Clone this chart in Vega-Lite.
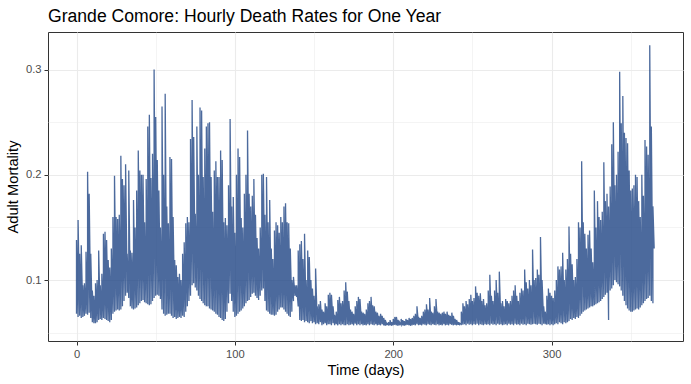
{
"$schema":"https://vega.github.io/schema/vega-lite/v6.json",
"autosize":"none",
"width":635,"height":309,
"padding":{"left":48,"top":32,"right":8,"bottom":43},
"background":"white",
"config":{"font":"Liberation Sans","view":{"stroke":"#333333","strokeWidth":1}},
"title":{"text":"Grande Comore: Hourly Death Rates for One Year","anchor":"start","frame":"group","font":"Liberation Sans","fontSize":17.6,"fontWeight":"normal","color":"#000000","offset":6},
"data":{"values":[
{"d":0,"lo":0.068,"hi":0.138},{"d":1,"lo":0.065,"hi":0.157},{"d":2,"lo":0.066,"hi":0.125},{"d":3,"lo":0.064,"hi":0.133},{"d":4,"lo":0.065,"hi":0.095},{"d":5,"lo":0.066,"hi":0.097},{"d":6,"lo":0.068,"hi":0.127},{"d":7,"lo":0.067,"hi":0.203},{"d":8,"lo":0.069,"hi":0.182},{"d":9,"lo":0.064,"hi":0.125},
{"d":10,"lo":0.06,"hi":0.09},{"d":11,"lo":0.059,"hi":0.085},{"d":12,"lo":0.059,"hi":0.097},{"d":13,"lo":0.06,"hi":0.1},{"d":14,"lo":0.062,"hi":0.128},{"d":15,"lo":0.063,"hi":0.095},{"d":16,"lo":0.062,"hi":0.106},{"d":17,"lo":0.064,"hi":0.144},{"d":18,"lo":0.063,"hi":0.146},{"d":19,"lo":0.062,"hi":0.138},
{"d":20,"lo":0.061,"hi":0.119},{"d":21,"lo":0.06,"hi":0.112},{"d":22,"lo":0.062,"hi":0.13},{"d":23,"lo":0.068,"hi":0.16},{"d":24,"lo":0.07,"hi":0.199},{"d":25,"lo":0.071,"hi":0.16},{"d":26,"lo":0.072,"hi":0.158},{"d":27,"lo":0.071,"hi":0.162},{"d":28,"lo":0.072,"hi":0.218},{"d":29,"lo":0.075,"hi":0.196},
{"d":30,"lo":0.08,"hi":0.19},{"d":31,"lo":0.085,"hi":0.21},{"d":32,"lo":0.088,"hi":0.125},{"d":33,"lo":0.083,"hi":0.204},{"d":34,"lo":0.075,"hi":0.128},{"d":35,"lo":0.073,"hi":0.126},{"d":36,"lo":0.072,"hi":0.176},{"d":37,"lo":0.073,"hi":0.15},{"d":38,"lo":0.074,"hi":0.185},{"d":39,"lo":0.076,"hi":0.223},
{"d":40,"lo":0.078,"hi":0.204},{"d":41,"lo":0.08,"hi":0.2},{"d":42,"lo":0.081,"hi":0.2},{"d":43,"lo":0.079,"hi":0.155},{"d":44,"lo":0.078,"hi":0.196},{"d":45,"lo":0.077,"hi":0.246},{"d":46,"lo":0.076,"hi":0.257},{"d":47,"lo":0.077,"hi":0.197},{"d":48,"lo":0.08,"hi":0.22},{"d":49,"lo":0.083,"hi":0.3},
{"d":50,"lo":0.085,"hi":0.255},{"d":51,"lo":0.086,"hi":0.214},{"d":52,"lo":0.085,"hi":0.185},{"d":53,"lo":0.082,"hi":0.15},{"d":54,"lo":0.072,"hi":0.265},{"d":55,"lo":0.068,"hi":0.2},{"d":56,"lo":0.066,"hi":0.277},{"d":57,"lo":0.067,"hi":0.17},{"d":58,"lo":0.068,"hi":0.154},{"d":59,"lo":0.068,"hi":0.217},
{"d":60,"lo":0.066,"hi":0.215},{"d":61,"lo":0.064,"hi":0.16},{"d":62,"lo":0.065,"hi":0.119},{"d":63,"lo":0.063,"hi":0.114},{"d":64,"lo":0.064,"hi":0.103},{"d":65,"lo":0.065,"hi":0.106},{"d":66,"lo":0.064,"hi":0.1},{"d":67,"lo":0.066,"hi":0.125},{"d":68,"lo":0.065,"hi":0.136},{"d":69,"lo":0.07,"hi":0.154},
{"d":70,"lo":0.075,"hi":0.16},{"d":71,"lo":0.08,"hi":0.155},{"d":72,"lo":0.085,"hi":0.234},{"d":73,"lo":0.095,"hi":0.271},{"d":74,"lo":0.097,"hi":0.236},{"d":75,"lo":0.093,"hi":0.163},{"d":76,"lo":0.09,"hi":0.246},{"d":77,"lo":0.085,"hi":0.2},{"d":78,"lo":0.082,"hi":0.264},{"d":79,"lo":0.08,"hi":0.261},
{"d":80,"lo":0.078,"hi":0.198},{"d":81,"lo":0.076,"hi":0.225},{"d":82,"lo":0.075,"hi":0.246},{"d":83,"lo":0.075,"hi":0.249},{"d":84,"lo":0.073,"hi":0.25},{"d":85,"lo":0.072,"hi":0.198},{"d":86,"lo":0.071,"hi":0.165},{"d":87,"lo":0.07,"hi":0.204},{"d":88,"lo":0.068,"hi":0.213},{"d":89,"lo":0.067,"hi":0.198},
{"d":90,"lo":0.065,"hi":0.198},{"d":91,"lo":0.064,"hi":0.223},{"d":92,"lo":0.062,"hi":0.214},{"d":93,"lo":0.061,"hi":0.155},{"d":94,"lo":0.063,"hi":0.159},{"d":95,"lo":0.07,"hi":0.152},{"d":96,"lo":0.078,"hi":0.19},{"d":97,"lo":0.087,"hi":0.253},{"d":98,"lo":0.08,"hi":0.17},{"d":99,"lo":0.07,"hi":0.179},
{"d":100,"lo":0.065,"hi":0.145},{"d":101,"lo":0.066,"hi":0.2},{"d":102,"lo":0.068,"hi":0.225},{"d":103,"lo":0.07,"hi":0.217},{"d":104,"lo":0.071,"hi":0.159},{"d":105,"lo":0.073,"hi":0.15},{"d":106,"lo":0.075,"hi":0.182},{"d":107,"lo":0.078,"hi":0.2},{"d":108,"lo":0.08,"hi":0.242},{"d":109,"lo":0.081,"hi":0.182},
{"d":110,"lo":0.084,"hi":0.17},{"d":111,"lo":0.087,"hi":0.18},{"d":112,"lo":0.088,"hi":0.196},{"d":113,"lo":0.085,"hi":0.162},{"d":114,"lo":0.083,"hi":0.14},{"d":115,"lo":0.081,"hi":0.13},{"d":116,"lo":0.085,"hi":0.15},{"d":117,"lo":0.09,"hi":0.2},{"d":118,"lo":0.092,"hi":0.201},{"d":119,"lo":0.08,"hi":0.162},
{"d":120,"lo":0.071,"hi":0.198},{"d":121,"lo":0.07,"hi":0.155},{"d":122,"lo":0.068,"hi":0.176},{"d":123,"lo":0.067,"hi":0.13},{"d":124,"lo":0.067,"hi":0.12},{"d":125,"lo":0.066,"hi":0.147},{"d":126,"lo":0.067,"hi":0.155},{"d":127,"lo":0.07,"hi":0.152},{"d":128,"lo":0.072,"hi":0.145},{"d":129,"lo":0.074,"hi":0.16},
{"d":130,"lo":0.074,"hi":0.155},{"d":131,"lo":0.072,"hi":0.17},{"d":132,"lo":0.07,"hi":0.173},{"d":133,"lo":0.068,"hi":0.155},{"d":134,"lo":0.066,"hi":0.154},{"d":135,"lo":0.065,"hi":0.13},{"d":136,"lo":0.07,"hi":0.1},{"d":137,"lo":0.08,"hi":0.103},{"d":138,"lo":0.085,"hi":0.095},{"d":139,"lo":0.084,"hi":0.095},
{"d":140,"lo":0.075,"hi":0.128},{"d":141,"lo":0.062,"hi":0.134},{"d":142,"lo":0.061,"hi":0.137},{"d":143,"lo":0.062,"hi":0.12},{"d":144,"lo":0.06,"hi":0.144},{"d":145,"lo":0.061,"hi":0.1},{"d":146,"lo":0.06,"hi":0.128},{"d":147,"lo":0.059,"hi":0.122},{"d":148,"lo":0.061,"hi":0.1},{"d":149,"lo":0.059,"hi":0.092},
{"d":150,"lo":0.06,"hi":0.085},{"d":151,"lo":0.058,"hi":0.111},{"d":152,"lo":0.059,"hi":0.075},{"d":153,"lo":0.058,"hi":0.077},{"d":154,"lo":0.06,"hi":0.08},{"d":155,"lo":0.057,"hi":0.072},{"d":156,"lo":0.058,"hi":0.07},{"d":157,"lo":0.059,"hi":0.078},{"d":158,"lo":0.057,"hi":0.075},{"d":159,"lo":0.058,"hi":0.086},
{"d":160,"lo":0.058,"hi":0.088},{"d":161,"lo":0.057,"hi":0.086},{"d":162,"lo":0.059,"hi":0.075},{"d":163,"lo":0.057,"hi":0.067},{"d":164,"lo":0.058,"hi":0.07},{"d":165,"lo":0.057,"hi":0.081},{"d":166,"lo":0.058,"hi":0.084},{"d":167,"lo":0.057,"hi":0.078},{"d":168,"lo":0.058,"hi":0.08},{"d":169,"lo":0.057,"hi":0.09},
{"d":170,"lo":0.057,"hi":0.098},{"d":171,"lo":0.058,"hi":0.089},{"d":172,"lo":0.057,"hi":0.08},{"d":173,"lo":0.0575,"hi":0.072},{"d":174,"lo":0.058,"hi":0.07},{"d":175,"lo":0.057,"hi":0.068},{"d":176,"lo":0.0585,"hi":0.075},{"d":177,"lo":0.057,"hi":0.08},{"d":178,"lo":0.058,"hi":0.084},{"d":179,"lo":0.057,"hi":0.082},
{"d":180,"lo":0.058,"hi":0.07},{"d":181,"lo":0.057,"hi":0.069},{"d":182,"lo":0.0575,"hi":0.068},{"d":183,"lo":0.057,"hi":0.072},{"d":184,"lo":0.058,"hi":0.078},{"d":185,"lo":0.057,"hi":0.08},{"d":186,"lo":0.058,"hi":0.084},{"d":187,"lo":0.0575,"hi":0.076},{"d":188,"lo":0.057,"hi":0.075},{"d":189,"lo":0.058,"hi":0.07},
{"d":190,"lo":0.057,"hi":0.069},{"d":191,"lo":0.0575,"hi":0.066},{"d":192,"lo":0.057,"hi":0.068},{"d":193,"lo":0.058,"hi":0.066},{"d":194,"lo":0.057,"hi":0.064},{"d":195,"lo":0.0565,"hi":0.062},{"d":196,"lo":0.057,"hi":0.059},{"d":197,"lo":0.0575,"hi":0.06},{"d":198,"lo":0.057,"hi":0.062},{"d":199,"lo":0.0565,"hi":0.06},
{"d":200,"lo":0.057,"hi":0.063},{"d":201,"lo":0.0575,"hi":0.065},{"d":202,"lo":0.057,"hi":0.065},{"d":203,"lo":0.0565,"hi":0.062},{"d":204,"lo":0.057,"hi":0.06},{"d":205,"lo":0.0575,"hi":0.063},{"d":206,"lo":0.057,"hi":0.062},{"d":207,"lo":0.0565,"hi":0.061},{"d":208,"lo":0.057,"hi":0.063},{"d":209,"lo":0.0575,"hi":0.062},
{"d":210,"lo":0.057,"hi":0.064},{"d":211,"lo":0.0565,"hi":0.063},{"d":212,"lo":0.057,"hi":0.064},{"d":213,"lo":0.0575,"hi":0.066},{"d":214,"lo":0.057,"hi":0.068},{"d":215,"lo":0.058,"hi":0.075},{"d":216,"lo":0.057,"hi":0.065},{"d":217,"lo":0.0575,"hi":0.064},{"d":218,"lo":0.057,"hi":0.066},{"d":219,"lo":0.058,"hi":0.07},
{"d":220,"lo":0.0575,"hi":0.072},{"d":221,"lo":0.057,"hi":0.077},{"d":222,"lo":0.058,"hi":0.072},{"d":223,"lo":0.0575,"hi":0.083},{"d":224,"lo":0.057,"hi":0.07},{"d":225,"lo":0.058,"hi":0.069},{"d":226,"lo":0.0575,"hi":0.075},{"d":227,"lo":0.057,"hi":0.082},{"d":228,"lo":0.058,"hi":0.07},{"d":229,"lo":0.057,"hi":0.069},
{"d":230,"lo":0.0575,"hi":0.068},{"d":231,"lo":0.057,"hi":0.069},{"d":232,"lo":0.058,"hi":0.07},{"d":233,"lo":0.057,"hi":0.068},{"d":234,"lo":0.0575,"hi":0.07},{"d":235,"lo":0.057,"hi":0.067},{"d":236,"lo":0.058,"hi":0.066},{"d":237,"lo":0.0575,"hi":0.069},{"d":238,"lo":0.057,"hi":0.066},{"d":239,"lo":0.0575,"hi":0.063},
{"d":240,"lo":0.057,"hi":0.062},{"d":241,"lo":0.0575,"hi":0.06},{"d":242,"lo":0.057,"hi":0.059},{"d":243,"lo":0.058,"hi":0.07},{"d":244,"lo":0.0575,"hi":0.078},{"d":245,"lo":0.058,"hi":0.075},{"d":246,"lo":0.057,"hi":0.08},{"d":247,"lo":0.0585,"hi":0.077},{"d":248,"lo":0.0575,"hi":0.082},{"d":249,"lo":0.058,"hi":0.086},
{"d":250,"lo":0.057,"hi":0.08},{"d":251,"lo":0.058,"hi":0.083},{"d":252,"lo":0.0575,"hi":0.094},{"d":253,"lo":0.0585,"hi":0.088},{"d":254,"lo":0.057,"hi":0.085},{"d":255,"lo":0.058,"hi":0.0875},{"d":256,"lo":0.0575,"hi":0.08},{"d":257,"lo":0.057,"hi":0.082},{"d":258,"lo":0.058,"hi":0.076},{"d":259,"lo":0.0575,"hi":0.078},
{"d":260,"lo":0.058,"hi":0.09},{"d":261,"lo":0.057,"hi":0.105},{"d":262,"lo":0.0585,"hi":0.085},{"d":263,"lo":0.0575,"hi":0.08},{"d":264,"lo":0.058,"hi":0.09},{"d":265,"lo":0.057,"hi":0.1},{"d":266,"lo":0.0585,"hi":0.088},{"d":267,"lo":0.0575,"hi":0.108},{"d":268,"lo":0.058,"hi":0.078},{"d":269,"lo":0.057,"hi":0.08},
{"d":270,"lo":0.0575,"hi":0.075},{"d":271,"lo":0.058,"hi":0.082},{"d":272,"lo":0.057,"hi":0.08},{"d":273,"lo":0.0585,"hi":0.078},{"d":274,"lo":0.0575,"hi":0.08},{"d":275,"lo":0.058,"hi":0.085},{"d":276,"lo":0.057,"hi":0.09},{"d":277,"lo":0.0585,"hi":0.095},{"d":278,"lo":0.0575,"hi":0.085},{"d":279,"lo":0.058,"hi":0.08},
{"d":280,"lo":0.057,"hi":0.088},{"d":281,"lo":0.0585,"hi":0.092},{"d":282,"lo":0.0575,"hi":0.09},{"d":283,"lo":0.058,"hi":0.11},{"d":284,"lo":0.057,"hi":0.098},{"d":285,"lo":0.0585,"hi":0.092},{"d":286,"lo":0.058,"hi":0.1},{"d":287,"lo":0.0575,"hi":0.095},{"d":288,"lo":0.058,"hi":0.129},{"d":289,"lo":0.0585,"hi":0.1},
{"d":290,"lo":0.058,"hi":0.102},{"d":291,"lo":0.0575,"hi":0.11},{"d":292,"lo":0.0585,"hi":0.105},{"d":293,"lo":0.058,"hi":0.141},{"d":294,"lo":0.057,"hi":0.1},{"d":295,"lo":0.0585,"hi":0.075},{"d":296,"lo":0.058,"hi":0.07},{"d":297,"lo":0.0575,"hi":0.085},{"d":298,"lo":0.058,"hi":0.092},{"d":299,"lo":0.057,"hi":0.088},
{"d":300,"lo":0.058,"hi":0.085},{"d":301,"lo":0.057,"hi":0.083},{"d":302,"lo":0.058,"hi":0.09},{"d":303,"lo":0.059,"hi":0.1},{"d":304,"lo":0.058,"hi":0.113},{"d":305,"lo":0.06,"hi":0.11},{"d":306,"lo":0.059,"hi":0.113},{"d":307,"lo":0.058,"hi":0.126},{"d":308,"lo":0.06,"hi":0.1},{"d":309,"lo":0.059,"hi":0.11},
{"d":310,"lo":0.06,"hi":0.12},{"d":311,"lo":0.061,"hi":0.151},{"d":312,"lo":0.063,"hi":0.125},{"d":313,"lo":0.062,"hi":0.115},{"d":314,"lo":0.064,"hi":0.1},{"d":315,"lo":0.063,"hi":0.103},{"d":316,"lo":0.065,"hi":0.12},{"d":317,"lo":0.064,"hi":0.155},{"d":318,"lo":0.066,"hi":0.15},{"d":319,"lo":0.068,"hi":0.213},
{"d":320,"lo":0.07,"hi":0.155},{"d":321,"lo":0.071,"hi":0.144},{"d":322,"lo":0.072,"hi":0.13},{"d":323,"lo":0.073,"hi":0.143},{"d":324,"lo":0.074,"hi":0.147},{"d":325,"lo":0.075,"hi":0.13},{"d":326,"lo":0.075,"hi":0.117},{"d":327,"lo":0.076,"hi":0.185},{"d":328,"lo":0.077,"hi":0.15},{"d":329,"lo":0.078,"hi":0.175},
{"d":330,"lo":0.079,"hi":0.16},{"d":331,"lo":0.08,"hi":0.157},{"d":332,"lo":0.082,"hi":0.165},{"d":333,"lo":0.084,"hi":0.212},{"d":334,"lo":0.086,"hi":0.175},{"d":335,"lo":0.088,"hi":0.182},{"d":336,"lo":0.062,"hi":0.17},{"d":337,"lo":0.09,"hi":0.189},{"d":338,"lo":0.092,"hi":0.229},{"d":339,"lo":0.095,"hi":0.25},
{"d":340,"lo":0.1,"hi":0.19},{"d":341,"lo":0.098,"hi":0.2},{"d":342,"lo":0.096,"hi":0.222},{"d":343,"lo":0.094,"hi":0.298},{"d":344,"lo":0.09,"hi":0.249},{"d":345,"lo":0.085,"hi":0.275},{"d":346,"lo":0.08,"hi":0.24},{"d":347,"lo":0.076,"hi":0.235},{"d":348,"lo":0.073,"hi":0.23},{"d":349,"lo":0.071,"hi":0.204},
{"d":350,"lo":0.07,"hi":0.185},{"d":351,"lo":0.07,"hi":0.187},{"d":352,"lo":0.071,"hi":0.19},{"d":353,"lo":0.072,"hi":0.2},{"d":354,"lo":0.073,"hi":0.198},{"d":355,"lo":0.072,"hi":0.175},{"d":356,"lo":0.074,"hi":0.16},{"d":357,"lo":0.076,"hi":0.2},{"d":358,"lo":0.078,"hi":0.18},{"d":359,"lo":0.08,"hi":0.233},
{"d":360,"lo":0.082,"hi":0.227},{"d":361,"lo":0.083,"hi":0.219},{"d":362,"lo":0.085,"hi":0.323},{"d":363,"lo":0.08,"hi":0.246},{"d":364,"lo":0.078,"hi":0.17},{"d":364.8,"lo":0.13,"hi":0.13}
]},
"transform":[{"fold":["lo","hi"],"as":["k","v"]}],
"mark":{"type":"line","stroke":"#1f4585","strokeOpacity":0.8,"strokeWidth":1.3,"interpolate":"linear"},
"encoding":{
"x":{"field":"d","type":"quantitative","scale":{"domain":[-18,383],"nice":false,"zero":false},
"axis":{"title":"Time (days)","values":[0,50,100,150,200,250,300,350],"format":"d","labelExpr":"datum.value % 100 === 0 ? datum.label : ''","grid":true,"gridColor":"#ebebeb","gridWidth":{"condition":{"test":"datum.value % 100 === 0","value":1.1},"value":0.55},"domain":false,"tickSize":4,"tickWidth":1,"tickColor":{"condition":{"test":"datum.value % 100 === 0","value":"#333333"},"value":"transparent"},"labelColor":"#4d4d4d","labelFontSize":11.2,"labelPadding":3,"labelFont":"Liberation Sans","titleFont":"Liberation Sans","titleFontSize":14.7,"titleFontWeight":"normal","titleColor":"#000000","titlePadding":3}},
"y":{"field":"v","type":"quantitative","scale":{"domain":[0.0421,0.3357],"nice":false,"zero":false},
"axis":{"title":"Adult Mortality","values":[0.05,0.1,0.15,0.2,0.25,0.3],"format":".1f","labelExpr":"round(datum.value*100) % 10 === 0 ? datum.label : ''","grid":true,"gridColor":"#ebebeb","gridWidth":{"condition":{"test":"round(datum.value*100) % 10 === 0","value":1.1},"value":0.55},"domain":false,"tickSize":4,"tickWidth":1,"tickColor":{"condition":{"test":"round(datum.value*100) % 10 === 0","value":"#333333"},"value":"transparent"},"labelColor":"#4d4d4d","labelFontSize":11.2,"labelPadding":3,"labelFont":"Liberation Sans","titleFont":"Liberation Sans","titleFontSize":14.7,"titleFontWeight":"normal","titleColor":"#000000","titlePadding":5}},
"order":[{"field":"d","type":"quantitative"},{"field":"k","type":"ordinal"}]
}
}
